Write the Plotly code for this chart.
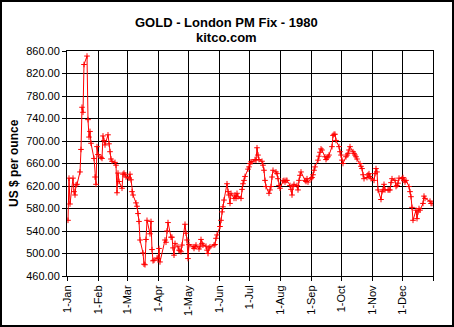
import pandas as pd
import plotly.graph_objects as go

# London PM fix 1980, one list per month (business days, UK holidays removed)
jan = [559, 634, 588, 634, 610, 604, 622, 623, 645, 685, 760, 751, 836, 851, 738, 707, 717, 696, 669, 636, 623, 690]
feb = [676, 671, 669, 709, 701, 693, 711, 695, 681, 668, 664, 662, 657, 608, 643, 628, 616, 641, 643, 640, 636]
mar = [634, 641, 631, 610, 604, 590, 584, 571, 557, 524, 501, 481, 480, 525, 559, 535, 557, 507, 487, 488, 492]
apr = [491, 509, 485, 524, 520, 540, 555, 529, 529, 510, 497, 518, 512, 506, 505, 503, 515, 552, 536, 524]
may = [491, 516, 512, 509, 512, 515, 508, 512, 525, 518, 515, 513, 506, 500, 510, 512, 515, 516, 527, 533]
jun = [548, 559, 574, 583, 595, 624, 610, 604, 589, 607, 598, 604, 598, 607, 601, 598, 614, 624, 630, 637, 650]
jul = [654, 660, 663, 663, 667, 666, 688, 675, 667, 664, 657, 648, 630, 619, 607, 613, 619, 636, 648, 645, 642, 633, 621]
aug = [616, 629, 630, 627, 630, 630, 621, 614, 604, 619, 623, 621, 613, 630, 639, 645, 630, 628, 633, 627]
sep = [633, 635, 640, 648, 654, 666, 673, 680, 686, 684, 672, 667, 670, 672, 675, 690, 710, 712, 712, 701, 690, 681]
oct_ = [675, 666, 660, 672, 675, 678, 684, 690, 681, 678, 675, 672, 668, 660, 655, 651, 640, 633, 635, 640, 642, 637, 633]
nov = [630, 642, 651, 645, 613, 596, 610, 613, 623, 613, 613, 613, 613, 626, 633, 630, 619, 621, 625, 634]
dec = [633, 635, 630, 627, 630, 619, 610, 601, 582, 559, 577, 562, 574, 580, 577, 589, 602, 598, 593, 589, 589]

months = [jan, feb, mar, apr, may, jun, jul, aug, sep, oct_, nov, dec]
holidays = pd.to_datetime(["1980-01-01", "1980-04-04", "1980-04-07", "1980-05-05",
                           "1980-05-26", "1980-08-25", "1980-12-25", "1980-12-26"])

tick_labels = ["1-Jan", "1-Feb", "1-Mar", "1-Apr", "1-May", "1-Jun",
               "1-Jul", "1-Aug", "1-Sep", "1-Oct", "1-Nov", "1-Dec", ""]
tick_dates = list(pd.date_range("1980-01-01", "1981-01-01", freq="MS"))

dates, prices = [], []
for m, vals in enumerate(months, start=1):
    start = pd.Timestamp(1980, m, 1)
    end = start + pd.offsets.MonthEnd(0)
    days = [d for d in pd.bdate_range(start, end) if d not in holidays]
    n = min(len(days), len(vals))
    dates += days[:n]
    prices += vals[:n]

fig = go.Figure()
fig.add_trace(go.Scatter(
    x=dates, y=prices, mode="lines+markers",
    line=dict(color="#ff0000", width=1),
    marker=dict(symbol="cross-thin", size=4, line=dict(color="#ff0000", width=1)),
    showlegend=False,
))

W, H = 454, 327
L, R, T, B = 67, 21, 51, 51
pw, ph = W - L - R, H - T - B

fig.update_layout(
    width=W, height=H,
    margin=dict(l=L, r=R, t=T, b=B),
    paper_bgcolor="white", plot_bgcolor="white",
    font=dict(family="Arial, Liberation Sans", size=11, color="black"),
    xaxis=dict(
        type="date", range=["1980-01-01", "1981-01-01"],
        tickmode="array", tickvals=tick_dates, ticktext=tick_labels,
        tickangle=-90, ticks="outside", ticklen=4, tickcolor="black",
        showgrid=True, gridcolor="black", gridwidth=1,
        showline=True, linecolor="black", linewidth=1, mirror=True,
        zeroline=False, tickfont=dict(size=11),
    ),
    yaxis=dict(
        range=[460, 860], tick0=460, dtick=40, tickformat=".2f",
        ticks="outside", ticklen=4, tickcolor="black",
        showgrid=True, gridcolor="black", gridwidth=1,
        showline=True, linecolor="black", linewidth=1, mirror=True,
        zeroline=False, tickfont=dict(size=11),
    ),
    annotations=[
        dict(text="<b>GOLD - London PM Fix - 1980</b>", x=(226 - L) / pw, y=1 + (T - 22) / ph,
             xref="paper", yref="paper", showarrow=False, font=dict(size=13),
             xanchor="center", yanchor="middle"),
        dict(text="<b>kitco.com</b>", x=(226 - L) / pw, y=1 + (T - 37) / ph,
             xref="paper", yref="paper", showarrow=False, font=dict(size=13),
             xanchor="center", yanchor="middle"),
        dict(text="<b>US $ per ounce</b>", x=(14 - L) / pw, y=1 - (163 - T) / ph,
             xref="paper", yref="paper", showarrow=False, font=dict(size=12),
             textangle=-90, xanchor="center", yanchor="middle"),
    ],
    shapes=[
        dict(type="rect", xref="paper", yref="paper",
             x0=(-L + 1) / pw, x1=1 + (R - 1) / pw,
             y0=-(B - 1) / ph, y1=1 + (T - 1) / ph,
             line=dict(color="black", width=2), layer="above"),
    ],
)

fig.write_html("out.html")
